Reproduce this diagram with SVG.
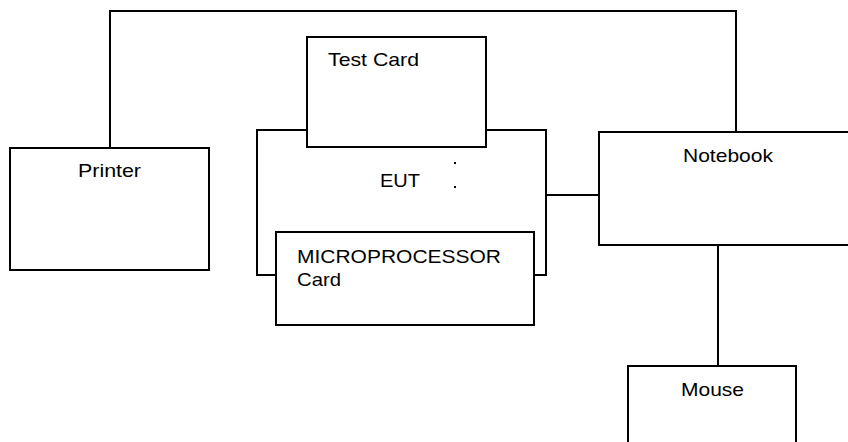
<svg xmlns="http://www.w3.org/2000/svg" width="848" height="442" viewBox="0 0 848 442">
<style>
.box{fill:#fff;stroke:#000;stroke-width:2}
.ln{fill:none;stroke:#000;stroke-width:2}
text{font-family:"Liberation Sans",Arial,sans-serif;font-size:19px;fill:#000}
</style>
<rect width="848" height="442" fill="#fff"/>
<g id="connectors">
<path class="ln" d="M110,148 V11 H736 V132"/>
<path class="ln" d="M546,195 H599"/>
<path class="ln" d="M718,245 V366"/>
</g>
<g id="printer">
<rect class="box" x="10" y="148" width="199" height="122"/>
<text x="78" y="177" textLength="63" lengthAdjust="spacingAndGlyphs">Printer</text>
</g>
<g id="eut">
<rect class="box" x="257" y="130" width="289" height="145"/>
<text x="380" y="187" textLength="40" lengthAdjust="spacingAndGlyphs">EUT</text>
<rect x="454" y="162" width="2" height="2" fill="#000"/>
<rect x="454" y="186" width="2" height="2" fill="#000"/>
</g>
<g id="testcard">
<rect class="box" x="307" y="37" width="179" height="110"/>
<text x="328" y="66" textLength="91" lengthAdjust="spacingAndGlyphs">Test Card</text>
</g>
<g id="microcard">
<rect class="box" x="276" y="232" width="258" height="93"/>
<text x="297" y="263" textLength="204" lengthAdjust="spacingAndGlyphs">MICROPROCESSOR</text>
<text x="297" y="286" textLength="44" lengthAdjust="spacingAndGlyphs">Card</text>
</g>
<g id="notebook">
<path class="box" d="M850,132 H599 V245 H850"/>
<text x="683" y="162" textLength="90" lengthAdjust="spacingAndGlyphs">Notebook</text>
</g>
<g id="mouse">
<path class="box" d="M628,444 V366 H796 V444"/>
<text x="681" y="396" textLength="63" lengthAdjust="spacingAndGlyphs">Mouse</text>
</g>
</svg>
